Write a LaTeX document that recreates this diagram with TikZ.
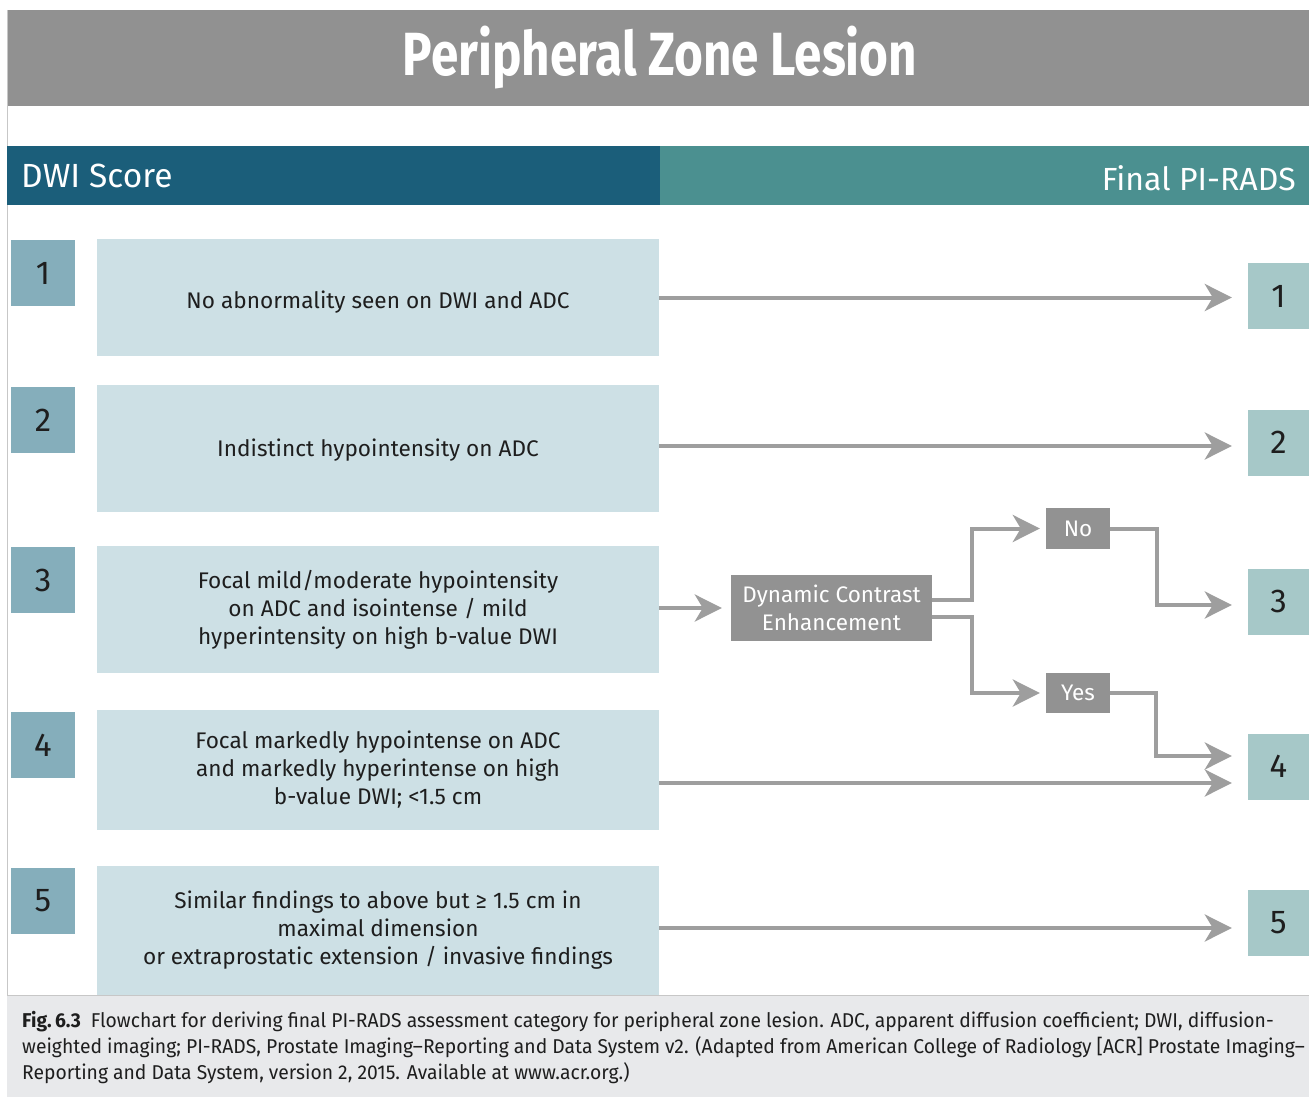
\documentclass[tikz,border=0pt]{standalone}
\usepackage{fontspec}
\setmainfont{Fira Sans}
\newfontfamily\titlefont[FakeStretch=0.81]{Fira Sans}
\newfontfamily\capfont[FakeStretch=0.965]{Fira Sans}
\usetikzlibrary{arrows.meta}

\definecolor{titlegray}{HTML}{919191}
\definecolor{hdrblue}{HTML}{1B5E7A}
\definecolor{hdrteal}{HTML}{4B9090}
\definecolor{scoreL}{HTML}{85AEBB}
\definecolor{descbg}{HTML}{CDE0E5}
\definecolor{scoreR}{HTML}{A6C8C8}
\definecolor{boxgray}{HTML}{929292}
\definecolor{arrowgray}{HTML}{9E9E9E}
\definecolor{capbg}{HTML}{E8E9EB}
\definecolor{textdark}{HTML}{1E1E1E}

% lower a line of text inside its box without changing the box size
\newcommand{\droptext}[2]{\raisebox{-#1}[\height][\depth]{#2}}

\tikzset{
  scorel/.style={fill=scoreL, inner sep=0pt, minimum width=64pt, minimum height=66pt,
    font=\fontsize{33}{36}\selectfont, text=textdark},
  scorer/.style={fill=scoreR, inner sep=0pt, minimum width=61pt, minimum height=66pt,
    font=\fontsize{33}{36}\selectfont, text=textdark},
  desc/.style={fill=descbg, inner sep=0pt, minimum width=562pt, align=center,
    font=\fontsize{22.6}{28}\selectfont, text=textdark},
  graybox/.style={fill=boxgray, inner sep=0pt, text=white, align=center,
    font=\fontsize{22.5}{28}\selectfont},
  arr/.style={draw=arrowgray, line width=4pt,
    -{Stealth[length=27pt, width=27pt, inset=8pt]}},
}

\begin{document}
\begin{tikzpicture}[x=1pt, y=-1pt]
\useasboundingbox (0,0) rectangle (1309,1097);
\fill[white] (0,0) rectangle (1309,1097);

% title bar
\fill[titlegray] (7,10) rectangle (1309,106);
\node[text=white, font=\titlefont\bfseries\fontsize{61}{64}\selectfont] (title) at (660,58) {Peripheral Zone Lesion};

% left frame line
\draw[black!22, line width=1pt] (7,10) -- (7,995);

% column headers
\fill[hdrblue] (7,146) rectangle (660,205);
\fill[hdrteal] (660,146) rectangle (1309,205);
\node[anchor=west, text=white, inner sep=0pt, font=\fontsize{33.5}{36}\selectfont] (hdwi) at (21,176) {DWI Score};
\node[anchor=east, text=white, inner sep=0pt, font=\fontsize{32}{36}\selectfont] (hpr) at (1296,178) {Final PI-RADS};

% DWI scores
\node[scorel] (l1) at (43,273) {1};
\node[scorel] (l2) at (43,420) {2};
\node[scorel] (l3) at (43,580) {3};
\node[scorel] (l4) at (43,745) {4};
\node[scorel] (l5) at (43,901) {5};

% findings
\node[desc, minimum height=117pt] (d1) at (378,297.5) {\droptext{5pt}{No abnormality seen on DWI and ADC}};
\node[desc, minimum height=127pt] (d2) at (378,448.5) {\droptext{2pt}{Indistinct hypointensity on ADC}};
\node[desc, minimum height=127pt] (d3) at (378,609.5) {Focal mild/moderate hypointensity\\on ADC and isointense / mild\\hyperintensity on high b-value DWI};
\node[desc, minimum height=120pt] (d4) at (378,770) {Focal markedly hypointense on ADC\\and markedly hyperintense on high\\b-value DWI; <1.5 cm};
\node[desc, minimum height=129pt] (d5) at (378,930.5) {Similar findings to above but ≥ 1.5 cm in\\maximal dimension\\or extraprostatic extension / invasive findings};

% final scores
\node[scorer] (r1) at (1278.5,296) {1};
\node[scorer] (r2) at (1278.5,442.5) {2};
\node[scorer] (r3) at (1278.5,601.5) {3};
\node[scorer] (r4) at (1278.5,766.5) {4};
\node[scorer] (r5) at (1278.5,923) {5};

% dynamic contrast enhancement branch
\node[graybox, minimum width=201pt, minimum height=66pt] (dce) at (831.5,608) {Dynamic Contrast\\Enhancement};
\node[graybox, minimum width=64pt, minimum height=41pt] (no) at (1078,528.5) {No};
\node[graybox, minimum width=64pt, minimum height=40pt] (yes) at (1078,693) {Yes};

% connectors
\draw[arr, shorten >=16pt] (d1.east) -- (d1.east -| r1.west);
\draw[arr, shorten >=16pt] ([yshift=2.5pt]d2.east) -- ([yshift=2.5pt]d2.east -| r2.west);
\draw[arr, shorten >=9pt] ([yshift=1.5pt]d3.east) -- (dce.west);
\draw[arr, shorten >=6pt] ([yshift=8pt]dce.east) -- ++(40,0) |- (no.west);
\draw[arr, shorten >=6pt] ([yshift=-9pt]dce.east) -- ++(40,0) |- (yes.west);
\draw[arr, shorten >=16pt] (no.east) -- ++(47,0) |- ([yshift=-3.5pt]r3.west);
\draw[arr, shorten >=16pt] (yes.east) -- ++(46,0) |- ([yshift=10.5pt]r4.west);
\draw[arr, shorten >=16pt] ([yshift=-13pt]d4.east) -- ([yshift=-13pt]d4.east -| r4.west);
\draw[arr, shorten >=16pt] ([yshift=2.5pt]d5.east) -- ([yshift=2.5pt]d5.east -| r5.west);

% caption
\fill[capbg] (7,995) rectangle (1309,1097);
\draw[black!22, line width=1pt] (7,995) -- (1309,995);
\node[anchor=north west, align=left, inner sep=0pt, text=textdark,
  font=\capfont\fontsize{20}{26}\selectfont] (cap) at (22,1011.5)
  {{\bfseries Fig.\,6.3}\enspace Flowchart for deriving final PI-RADS assessment category for peripheral zone lesion. ADC, apparent diffusion coefficient; DWI, diffusion-\\
   weighted imaging; PI-RADS, Prostate Imaging–Reporting and Data System v2. (Adapted from American College of Radiology [ACR] Prostate Imaging–\\
   Reporting and Data System, version 2, 2015. Available at www.acr.org.)};
\end{tikzpicture}
\end{document}
